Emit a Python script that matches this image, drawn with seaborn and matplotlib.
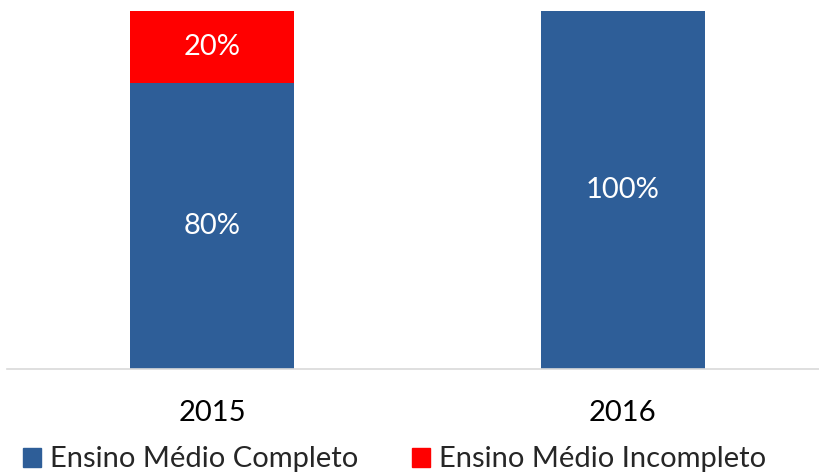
import pandas as pd
import seaborn as sns
import matplotlib.pyplot as plt
from matplotlib.patches import Patch

# data
years = ['2015', '2016']
completo = [80, 100]
incompleto = [20, 0]
series_names = ['Ensino Médio Completo', 'Ensino Médio Incompleto']

blue = '#2E5E98'
red = '#FF0000'

sns.set_style('white')
plt.rcParams['font.family'] = ['Lato', 'DejaVu Sans']

df = pd.DataFrame({'year': years, 'completo': completo, 'incompleto': incompleto})
df['total'] = df['completo'] + df['incompleto']

fig = plt.figure(figsize=(8.19, 4.75), dpi=100)
ax = fig.add_axes([7 / 819, 106 / 475, 821 / 819, 358 / 475])

# stacked bars: draw the total in red, then the blue part over it
sns.barplot(x='year', y='total', data=df, color=red, width=0.4, saturation=1,
            linewidth=0, ax=ax)
sns.barplot(x='year', y='completo', data=df, color=blue, width=0.4, saturation=1,
            linewidth=0, ax=ax)

# labels
for i, row in df.iterrows():
    ax.text(i, row['completo'] / 2, f"{row['completo']}%", ha='center', va='center',
            color='white', fontsize=21)
    if row['incompleto'] > 0:
        ax.text(i, row['completo'] + row['incompleto'] / 2, f"{row['incompleto']}%",
                ha='center', va='center', color='white', fontsize=21)

ax.set_xlim(-0.5, 1.5)
ax.set_ylim(0, 100)
ax.set_xlabel('')
ax.set_ylabel('')
ax.set_yticks([])
ax.tick_params(axis='x', length=0, pad=22, labelsize=21, labelcolor='black')
for s in ['top', 'right', 'left']:
    ax.spines[s].set_visible(False)
ax.spines['bottom'].set_color('#D9D9D9')
ax.spines['bottom'].set_linewidth(1.2)

handles = [Patch(color=blue, label=series_names[0]), Patch(color=red, label=series_names[1])]
fig.legend(handles=handles, loc='center left', bbox_to_anchor=(0.028, 0.033), ncol=2,
           frameon=False, fontsize=21, handlelength=0.62, handleheight=0.62,
           handletextpad=0.3, columnspacing=1.85, borderpad=0, borderaxespad=0)

fig.savefig('out.png', dpi=100)
